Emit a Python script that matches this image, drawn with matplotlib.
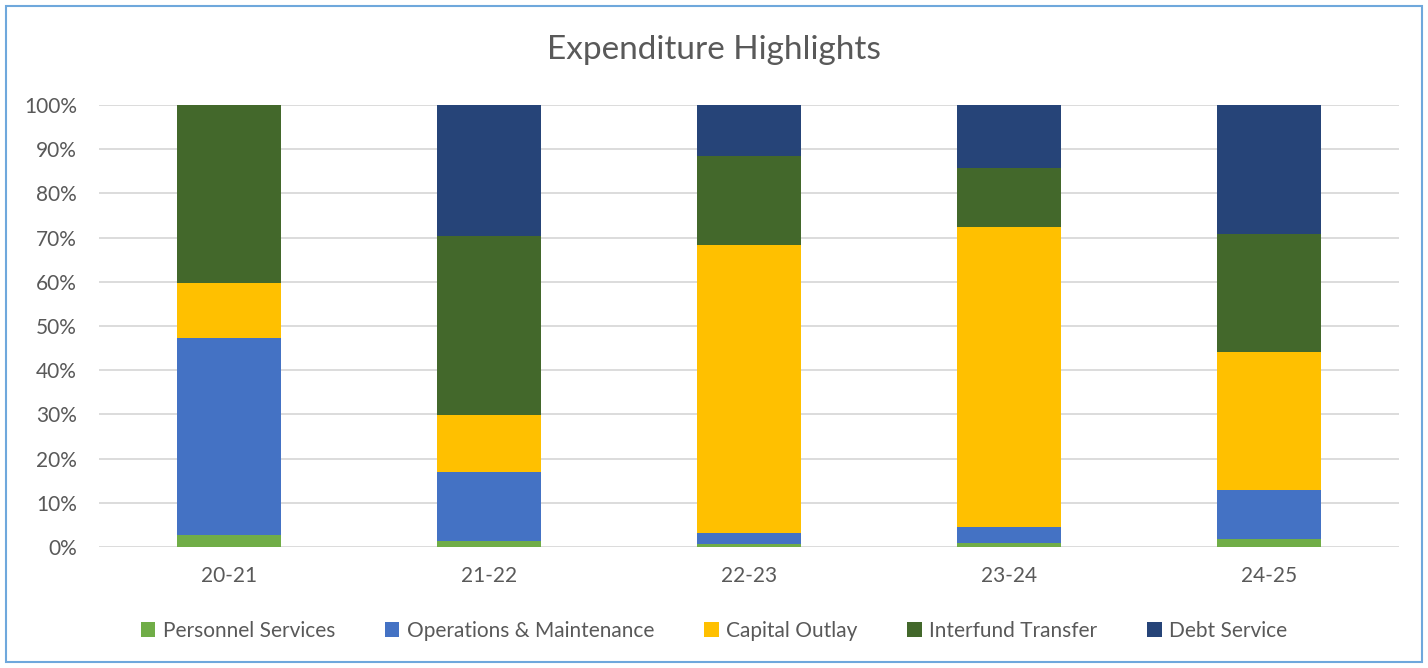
import matplotlib
matplotlib.use("Agg")
import matplotlib.pyplot as plt
from matplotlib.patches import Rectangle
import numpy as np

plt.rcParams['font.family'] = ['Lato', 'DejaVu Sans']

years = ["20-21", "21-22", "22-23", "23-24", "24-25"]
series_names = ["Personnel Services", "Operations & Maintenance", "Capital Outlay",
                "Interfund Transfer", "Debt Service"]
personnel = [2.7, 1.4, 0.6, 0.8, 1.8]
operations = [44.6, 15.6, 2.6, 3.7, 11.2]
capital = [12.4, 12.9, 65.2, 67.9, 31.1]
interfund = [40.3, 40.5, 20.1, 13.3, 26.7]
debt = [0.0, 29.6, 11.5, 14.3, 29.2]
colors = ["#70AD47", "#4472C4", "#FFC000", "#43682B", "#264478"]

fig = plt.figure(figsize=(14.28, 6.68), dpi=100)
ax = fig.add_axes([99/1428, 1-547/668, 1300/1428, 442/668])

x = np.arange(len(years))
bottom = np.zeros(len(years))
for name, vals, c in zip(series_names, [personnel, operations, capital, interfund, debt], colors):
    ax.bar(x, vals, bottom=bottom, width=0.4, color=c, label=name, zorder=3)
    bottom += np.array(vals)

ax.set_xlim(-0.5, len(years) - 0.5)
ax.set_ylim(0, 100)
ax.set_yticks(np.arange(0, 101, 10))
ax.set_yticklabels([f"{v}%" for v in range(0, 101, 10)])
ax.set_xticks(x)
ax.set_xticklabels(years)
ax.grid(axis='y', color='#D9D9D9', linewidth=1.3, zorder=0)
for s in ax.spines.values():
    s.set_visible(False)
ax.tick_params(axis='both', length=0, labelsize=15, colors='#595959')
ax.tick_params(axis='y', pad=16)
ax.tick_params(axis='x', pad=14)

fig.text(0.5, 1-50/668, "Expenditure Highlights", ha='center', va='center',
         fontsize=24, color='#595959')

handles, labels = ax.get_legend_handles_labels()
fig.legend(handles, labels, loc='center', bbox_to_anchor=(0.5, 1-631/668), ncol=5,
           frameon=False, fontsize=15, labelcolor='#595959', handlelength=0.7,
           handleheight=0.7, handletextpad=0.35, columnspacing=2.4)

fig.patches.append(Rectangle((6/1428, 6/668), 1416/1428, 656/668, transform=fig.transFigure,
                             fill=False, edgecolor='#6FA8DC', linewidth=1.5))

fig.savefig("out.png", dpi=100)
